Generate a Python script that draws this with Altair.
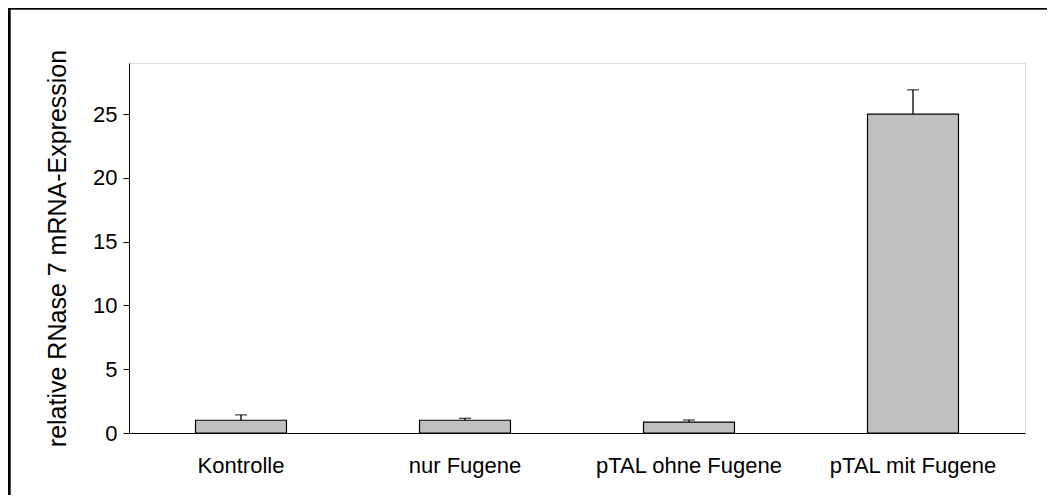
import altair as alt
import pandas as pd

categories = ["Kontrolle", "nur Fugene", "pTAL ohne Fugene", "pTAL mit Fugene"]
values = [1.0, 1.0, 0.86, 25.0]
upper = [1.42, 1.15, 1.02, 26.9]

df = pd.DataFrame({"group": categories, "value": values, "upper": upper})

FONT = "Liberation Sans"
W, H = 896, 370

x = alt.X("group:N", sort=categories,
          scale=alt.Scale(paddingInner=0.594, paddingOuter=0.297),
          axis=alt.Axis(title=None, labelAngle=0, ticks=False, labelFontSize=22,
                        labelPadding=22, labelColor="black", domainColor="black",
                        labelFont=FONT, labelAlign="center", labelLimit=0))
y = alt.Y("value:Q", scale=alt.Scale(domain=[0, 29], nice=False),
          axis=alt.Axis(title="relative RNase 7 mRNA-Expression", values=[0, 5, 10, 15, 20, 25],
                        grid=False, tickSize=6, tickColor="black", domainColor="black",
                        labelFontSize=22, labelPadding=6, labelColor="black", labelFont=FONT,
                        titleFontSize=25, titleFontWeight="normal", titleFont=FONT,
                        titleColor="black", titlePadding=22))

base = alt.Chart(df)

bars = base.mark_bar(color="#c0c0c0", stroke="black", strokeWidth=1.2).encode(x=x, y=y)
err = base.mark_rule(color="black", strokeWidth=1.3).encode(x=x, y="value:Q", y2="upper:Q")
cap = base.mark_tick(color="black", thickness=1.3, size=12, orient="horizontal").encode(
    x=x, y="upper:Q")

frame = alt.Chart(df).mark_rect(fill=None, stroke="black", strokeWidth=2.5).encode(
    x=alt.value(-120), x2=alt.value(1200), y=alt.value(-55), y2=alt.value(800))

chart = alt.layer(frame, bars, err, cap).properties(
    width=W, height=H,
    autosize=alt.AutoSizeParams(type="none"),
    padding={"left": 121, "top": 55, "right": 22, "bottom": 62},
).configure_view(stroke="black", strokeWidth=1).configure(background="white")

chart.save("out.html", embed_options={"renderer": "svg", "actions": False})
